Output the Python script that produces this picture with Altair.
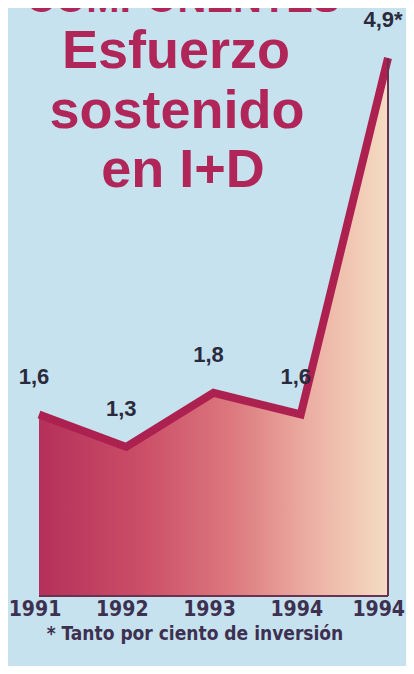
import altair as alt
import pandas as pd

# ---- data ----
years = ["1991", "1992", "1993", "1994", "1994"]
values = [1.6, 1.3, 1.8, 1.6, 4.9]
value_labels = ["1,6", "1,3", "1,8", "1,6", "4,9*"]
positions = [0, 1, 2, 3, 4]

kicker = "COMPONENTES"
title_lines = ["Esfuerzo", "sostenido", "en I+D"]
footnote = "* Tanto por ciento de inversión"

BASE = -0.08
df = pd.DataFrame({"idx": positions, "value": values, "label": value_labels,
                   "year": years, "base": [BASE] * len(values)})
edge_df = pd.DataFrame({"x0": [min(positions)], "x1": [max(positions)],
                        "y": [BASE], "ytop": [values[-1]]})

COND = "'DejaVu Sans Condensed', 'Liberation Sans', sans-serif"

x_scale = alt.Scale(domain=[-0.3553, 4.2063], nice=False, zero=False)
y_scale = alt.Scale(domain=[BASE, 5.3628], nice=False, zero=False)

x_enc = alt.X("idx:Q", scale=x_scale, axis=None)
y_enc = alt.Y("value:Q", scale=y_scale, axis=None)

gradient = {
    "gradient": "linear",
    "x1": 0, "y1": 0, "x2": 1, "y2": 0,
    "stops": [
        {"offset": 0, "color": "#b5305a"},
        {"offset": 0.3, "color": "#cb4f68"},
        {"offset": 0.55, "color": "#dc787e"},
        {"offset": 0.8, "color": "#edb4a6"},
        {"offset": 1, "color": "#f4dcc2"},
    ],
}

base = alt.Chart(df)

area = base.mark_area(color=gradient).encode(
    x=x_enc, y=y_enc, y2="base:Q"
)

line = base.mark_line(color="#ad2150", strokeWidth=8).encode(x=x_enc, y=y_enc)

edges = alt.Chart(edge_df)
right_edge = edges.mark_rule(color="#6a3250", strokeWidth=2).encode(
    x=alt.X("x1:Q", scale=x_scale, axis=None),
    y=alt.Y("ytop:Q", scale=y_scale, axis=None),
    y2="y:Q",
)
bottom_edge = edges.mark_rule(color="#6a3250", strokeWidth=2).encode(
    x=alt.X("x0:Q", scale=x_scale, axis=None),
    x2="x1:Q",
    y=alt.Y("y:Q", scale=y_scale, axis=None),
)

value_text = base.mark_text(
    dx=-5, dy=-38, fontSize=22, fontWeight="bold", font="Liberation Sans",
    color="#2b2a3c"
).encode(x=x_enc, y=y_enc, text="label:N")

year_y = alt.Y("base:Q", scale=y_scale, axis=None)
year_text = base.transform_filter("datum.idx < 4").mark_text(
    dx=-4, dy=3, fontSize=21, fontWeight="bold", font=COND,
    color="#3d3050", baseline="top", align="center"
).encode(x=x_enc, y=year_y, text="year:N")
year_text_last = base.transform_filter("datum.idx == 4").mark_text(
    dx=17, dy=3, fontSize=21, fontWeight="bold", font=COND,
    color="#3d3050", baseline="top", align="right"
).encode(x=x_enc, y=year_y, text="year:N")


def text_layer(txt, x, y, size, color, font="Liberation Sans"):
    return alt.Chart(pd.DataFrame({"t": [txt]})).mark_text(
        fontSize=size, fontWeight="bold", font=font, color=color,
        align="center", baseline="alphabetic",
    ).encode(text="t:N", x=alt.value(x), y=alt.value(y))


title_color = "#b02658"
titles = [
    text_layer(kicker, 175, 4, 40, title_color),
    text_layer(title_lines[0], 168, 60, 54, title_color),
    text_layer(title_lines[1], 169, 120, 54, title_color),
    text_layer(title_lines[2], 175, 179, 54, title_color),
    text_layer(footnote, 187, 632, 19, "#3d3050", font=COND),
]

chart = alt.layer(
    area, line, right_edge, bottom_edge, value_text, year_text, year_text_last, *titles
).properties(
    width=398,
    height=588,
    background="#c6e2ef",
    autosize=alt.AutoSizeParams(type="none"),
    padding={"left": 0, "top": 0, "right": 0, "bottom": 70},
).configure_view(strokeOpacity=0)

chart.save("out.html", embed_options={"renderer": "svg", "actions": False})
